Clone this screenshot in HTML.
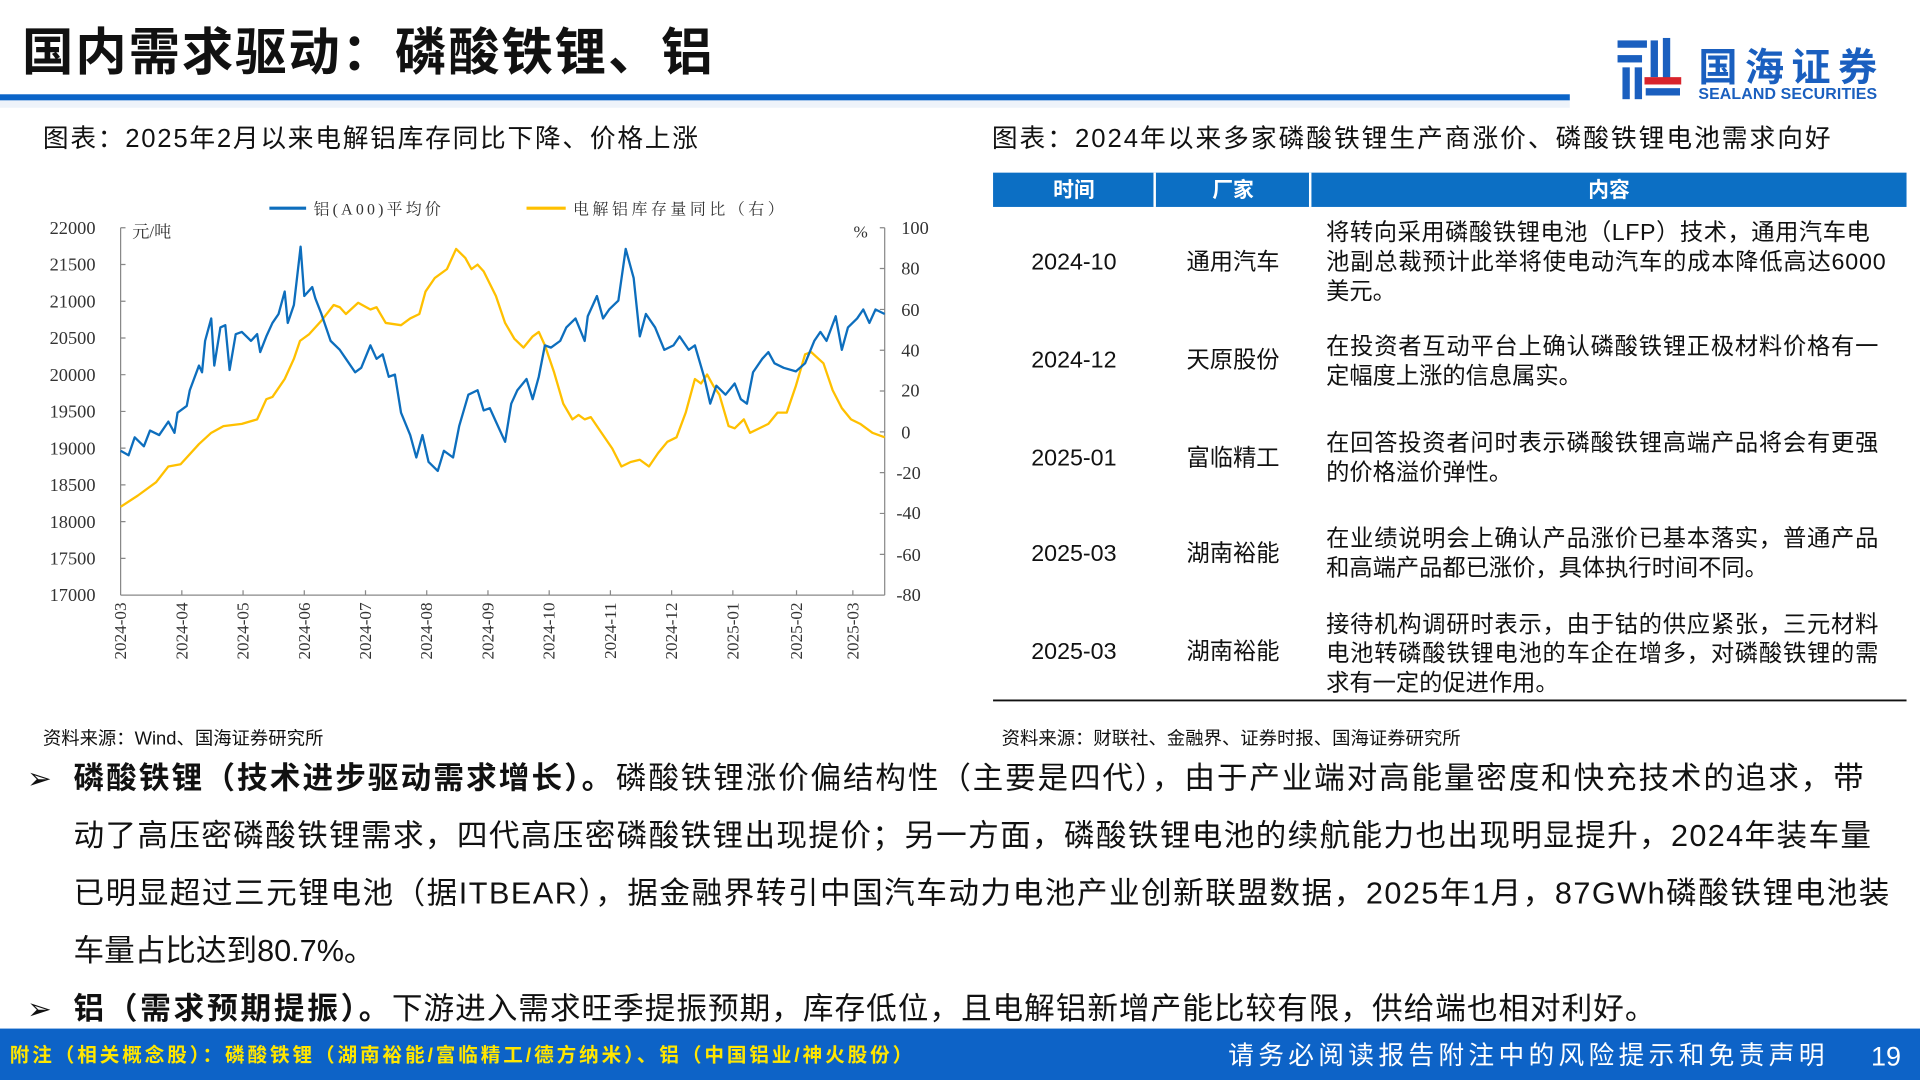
<!DOCTYPE html>
<html><head><meta charset="utf-8"><style>
html,body{margin:0;padding:0;background:#fff;}
svg{display:block;}
text{font-family:"Liberation Sans","Noto Sans CJK SC",sans-serif;}
text.serif,.serif text{font-family:"Liberation Serif","Noto Serif CJK SC",serif;}
</style></head><body>
<svg width="1920" height="1080" viewBox="0 0 1568 882" xmlns="http://www.w3.org/2000/svg">
<rect width="1568" height="882" fill="#fff"/>
<text x="18" y="57" font-size="42" font-weight="bold" fill="#111" textLength="564">国内需求驱动：磷酸铁锂、铝</text>
<rect x="0" y="77" width="1282" height="5" fill="#0b64c8"/>
<rect x="0" y="82" width="1282" height="6" fill="#eef3fa"/>
<g fill="#1a5fbf">
<rect x="1321" y="33" width="24" height="6"/>
<rect x="1321" y="45" width="20" height="6"/>
<rect x="1325" y="55" width="6" height="26"/>
<rect x="1335" y="55" width="6" height="26"/>
<rect x="1348" y="33" width="6" height="30"/>
<rect x="1358" y="31" width="6" height="34"/>
<rect x="1344" y="72" width="28" height="6"/>
</g>
<rect x="1343" y="63" width="30" height="6" fill="#d8242c"/>
<text x="1387" y="66" font-size="32" font-weight="bold" fill="#1a5fbf" textLength="146">国海证券</text>
<text x="1387" y="81" font-size="13" font-weight="bold" fill="#1a5fbf" textLength="146">SEALAND SECURITIES</text>
<text x="35" y="120" font-size="21" fill="#111" textLength="535">图表：2025年2月以来电解铝库存同比下降、价格上涨</text>
<text x="810" y="120" font-size="21" fill="#111" textLength="685">图表：2024年以来多家磷酸铁锂生产商涨价、磷酸铁锂电池需求向好</text>
<line x1="220" y1="170" x2="250" y2="170" stroke="#0d6ebd" stroke-width="2.5"/>
<text x="256" y="175" font-size="13" fill="#333" class="serif" textLength="104">铝(A00)平均价</text>
<line x1="430" y1="170" x2="462" y2="170" stroke="#ffc000" stroke-width="2.5"/>
<text x="468" y="175" font-size="13" fill="#333" class="serif" textLength="172">电解铝库存量同比（右）</text>
<g stroke="#888" stroke-width="1" fill="none">
<line x1="98.5" y1="186" x2="98.5" y2="486"/>
<line x1="98.5" y1="486" x2="722.5" y2="486"/>
<line x1="722.5" y1="186" x2="722.5" y2="486"/>
<path d="M98.5 186h4M98.5 216h4M98.5 246h4M98.5 276h4M98.5 306h4M98.5 336h4M98.5 366h4M98.5 396h4M98.5 426h4M98.5 456h4"/>
<path d="M722.5 186h-4M722.5 219.3h-4M722.5 252.7h-4M722.5 286h-4M722.5 319.3h-4M722.5 352.7h-4M722.5 386h-4M722.5 419.3h-4M722.5 452.7h-4"/>
<path d="M148.5 486v-4M198.5 486v-4M248.5 486v-4M298.5 486v-4M348.5 486v-4M398.5 486v-4M448.5 486v-4M498.5 486v-4M548.5 486v-4M598.5 486v-4M650.5 486v-4M696.5 486v-4"/>
</g>
<g class="serif" font-size="15" fill="#333" text-anchor="end">
<text x="78" y="191">22000</text><text x="78" y="221">21500</text><text x="78" y="251">21000</text>
<text x="78" y="281">20500</text><text x="78" y="311">20000</text><text x="78" y="341">19500</text>
<text x="78" y="371">19000</text><text x="78" y="401">18500</text><text x="78" y="431">18000</text>
<text x="78" y="461">17500</text><text x="78" y="491">17000</text>
</g>
<g class="serif" font-size="15" fill="#333">
<text x="736" y="191">100</text><text x="736" y="224">80</text><text x="736" y="258">60</text>
<text x="736" y="291">40</text><text x="736" y="324">20</text><text x="736" y="358">0</text>
<text x="732" y="391">-20</text><text x="732" y="424">-40</text><text x="732" y="458">-60</text>
<text x="732" y="491">-80</text>
</g>
<text x="108" y="194" font-size="14" class="serif" fill="#333">元/吨</text>
<text x="697" y="194" font-size="14" class="serif" fill="#333">%</text>
<g class="serif" font-size="14" fill="#333" text-anchor="end">
<text transform="translate(103,492) rotate(-90)">2024-03</text>
<text transform="translate(153,492) rotate(-90)">2024-04</text>
<text transform="translate(203,492) rotate(-90)">2024-05</text>
<text transform="translate(253,492) rotate(-90)">2024-06</text>
<text transform="translate(303,492) rotate(-90)">2024-07</text>
<text transform="translate(353,492) rotate(-90)">2024-08</text>
<text transform="translate(403,492) rotate(-90)">2024-09</text>
<text transform="translate(453,492) rotate(-90)">2024-10</text>
<text transform="translate(503,492) rotate(-90)">2024-11</text>
<text transform="translate(553,492) rotate(-90)">2024-12</text>
<text transform="translate(603,492) rotate(-90)">2025-01</text>
<text transform="translate(655,492) rotate(-90)">2025-02</text>
<text transform="translate(701,492) rotate(-90)">2025-03</text>
</g>
<g transform="scale(0.5 0.3663)" fill="none" stroke-linejoin="round">
<polyline vector-effect="non-scaling-stroke" stroke="#ffc000" stroke-width="2.3" points="197,1130 225,1105 255,1075 275,1040 295,1035 325,990 345,965 365,950 395,945 420,935 435,890 445,885 465,845 480,800 490,760 505,745 525,715 545,680 555,685 565,700 585,675 605,690 615,685 630,720 655,725 670,710 685,700 695,650 710,620 730,600 745,555 760,575 770,600 780,590 790,605 810,660 825,720 840,755 855,775 870,750 880,740 890,770 905,830 920,900 935,935 945,925 955,935 965,930 980,960 1000,1000 1015,1040 1030,1030 1045,1025 1060,1040 1075,1010 1090,985 1105,975 1120,920 1135,845 1145,855 1155,835 1165,860 1175,880 1190,950 1200,955 1215,935 1225,965 1240,955 1255,945 1270,920 1285,920 1300,860 1315,790 1325,785 1345,810 1360,870 1375,910 1390,935 1405,945 1425,965 1445,975"/>
<polyline vector-effect="non-scaling-stroke" stroke="#0d6ebd" stroke-width="2.3" points="197,1005 210,1015 220,975 235,995 245,960 260,970 275,940 285,965 290,920 305,905 310,870 325,815 330,830 335,760 345,710 350,815 360,730 368,725 375,825 385,745 395,740 410,760 420,745 425,785 435,750 445,720 455,700 465,650 470,720 480,680 491,550 497,660 510,640 515,665 525,700 540,760 555,780 565,800 580,830 590,820 605,770 615,800 625,790 635,840 645,835 655,920 670,970 680,1020 690,970 700,1030 715,1050 725,1005 740,1020 750,950 765,880 780,870 790,915 800,910 810,940 825,985 835,900 845,870 860,845 870,890 880,840 890,770 900,775 915,760 925,730 940,710 955,760 960,705 975,660 985,710 995,690 1010,670 1022,555 1035,620 1045,750 1055,700 1070,730 1085,780 1100,770 1110,750 1125,780 1135,770 1150,840 1160,900 1170,860 1185,880 1200,855 1210,890 1220,900 1230,830 1245,800 1255,785 1265,810 1280,820 1300,828 1315,810 1330,760 1340,740 1350,760 1365,705 1375,780 1385,730 1400,710 1410,690 1420,720 1430,690 1445,700"/>
</g>
<rect x="811" y="141" width="746" height="28" fill="#0c6fc4"/>
<rect x="942" y="141" width="2" height="28" fill="#fff"/>
<rect x="1069" y="141" width="2" height="28" fill="#fff"/>
<g font-size="17" font-weight="bold" fill="#fff" text-anchor="middle">
<text x="877" y="161">时间</text><text x="1007" y="161">厂家</text><text x="1314" y="161">内容</text>
</g>
<line x1="811" y1="572" x2="1557" y2="572" stroke="#111" stroke-width="1.5"/>
<g font-size="19" fill="#111" text-anchor="middle">
<text x="877" y="220">2024-10</text><text x="1007" y="220">通用汽车</text>
<text x="877" y="300">2024-12</text><text x="1007" y="300">天原股份</text>
<text x="877" y="380">2025-01</text><text x="1007" y="380">富临精工</text>
<text x="877" y="458">2025-03</text><text x="1007" y="458">湖南裕能</text>
<text x="877" y="538">2025-03</text><text x="1007" y="538">湖南裕能</text>
</g>
<g font-size="19" fill="#111">
<text x="1083" y="196" textLength="444">将转向采用磷酸铁锂电池（LFP）技术，通用汽车电</text>
<text x="1083" y="220" textLength="457">池副总裁预计此举将使电动汽车的成本降低高达6000</text>
<text x="1083" y="244">美元。</text>
<text x="1083" y="289" textLength="451">在投资者互动平台上确认磷酸铁锂正极材料价格有一</text>
<text x="1083" y="313">定幅度上涨的信息属实。</text>
<text x="1083" y="368" textLength="451">在回答投资者问时表示磷酸铁锂高端产品将会有更强</text>
<text x="1083" y="392">的价格溢价弹性。</text>
<text x="1083" y="446" textLength="451">在业绩说明会上确认产品涨价已基本落实，普通产品</text>
<text x="1083" y="470">和高端产品都已涨价，具体执行时间不同。</text>
<text x="1083" y="516" textLength="451">接待机构调研时表示，由于钴的供应紧张，三元材料</text>
<text x="1083" y="540" textLength="451">电池转磷酸铁锂电池的车企在增多，对磷酸铁锂的需</text>
<text x="1083" y="564">求有一定的促进作用。</text>
</g>
<text x="35" y="608" font-size="15" fill="#111">资料来源：Wind、国海证券研究所</text>
<text x="818" y="608" font-size="15" fill="#111">资料来源：财联社、金融界、证券时报、国海证券研究所</text>
<g font-size="25" fill="#111">
<text x="22" y="644" font-size="24">➢</text>
<text x="60" y="644" font-weight="bold" textLength="440">磷酸铁锂（技术进步驱动需求增长）。</text>
<text x="503" y="644" textLength="1019">磷酸铁锂涨价偏结构性（主要是四代），由于产业端对高能量密度和快充技术的追求，带</text>
<text x="60" y="691" textLength="1468">动了高压密磷酸铁锂需求，四代高压密磷酸铁锂出现提价；另一方面，磷酸铁锂电池的续航能力也出现明显提升，2024年装车量</text>
<text x="60" y="738" textLength="1483">已明显超过三元锂电池（据ITBEAR），据金融界转引中国汽车动力电池产业创新联盟数据，2025年1月，87GWh磷酸铁锂电池装</text>
<text x="60" y="785">车量占比达到80.7%。</text>
<text x="22" y="832" font-size="24">➢</text>
<text x="60" y="832" font-weight="bold" textLength="258">铝（需求预期提振）。</text>
<text x="320" y="832" textLength="1032">下游进入需求旺季提振预期，库存低位，且电解铝新增产能比较有限，供给端也相对利好。</text>
</g>
<rect x="0" y="840" width="1568" height="42" fill="#0d63c7"/>
<text x="8" y="867" font-size="16" font-weight="bold" fill="#ffe600" textLength="737">附注（相关概念股）：磷酸铁锂（湖南裕能/富临精工/德方纳米）、铝（中国铝业/神火股份）</text>
<text x="1003" y="869" font-size="21" fill="#fff" textLength="487">请务必阅读报告附注中的风险提示和免责声明</text>
<text x="1528" y="870" font-size="22" fill="#fff">19</text>
</svg>
</body></html>
